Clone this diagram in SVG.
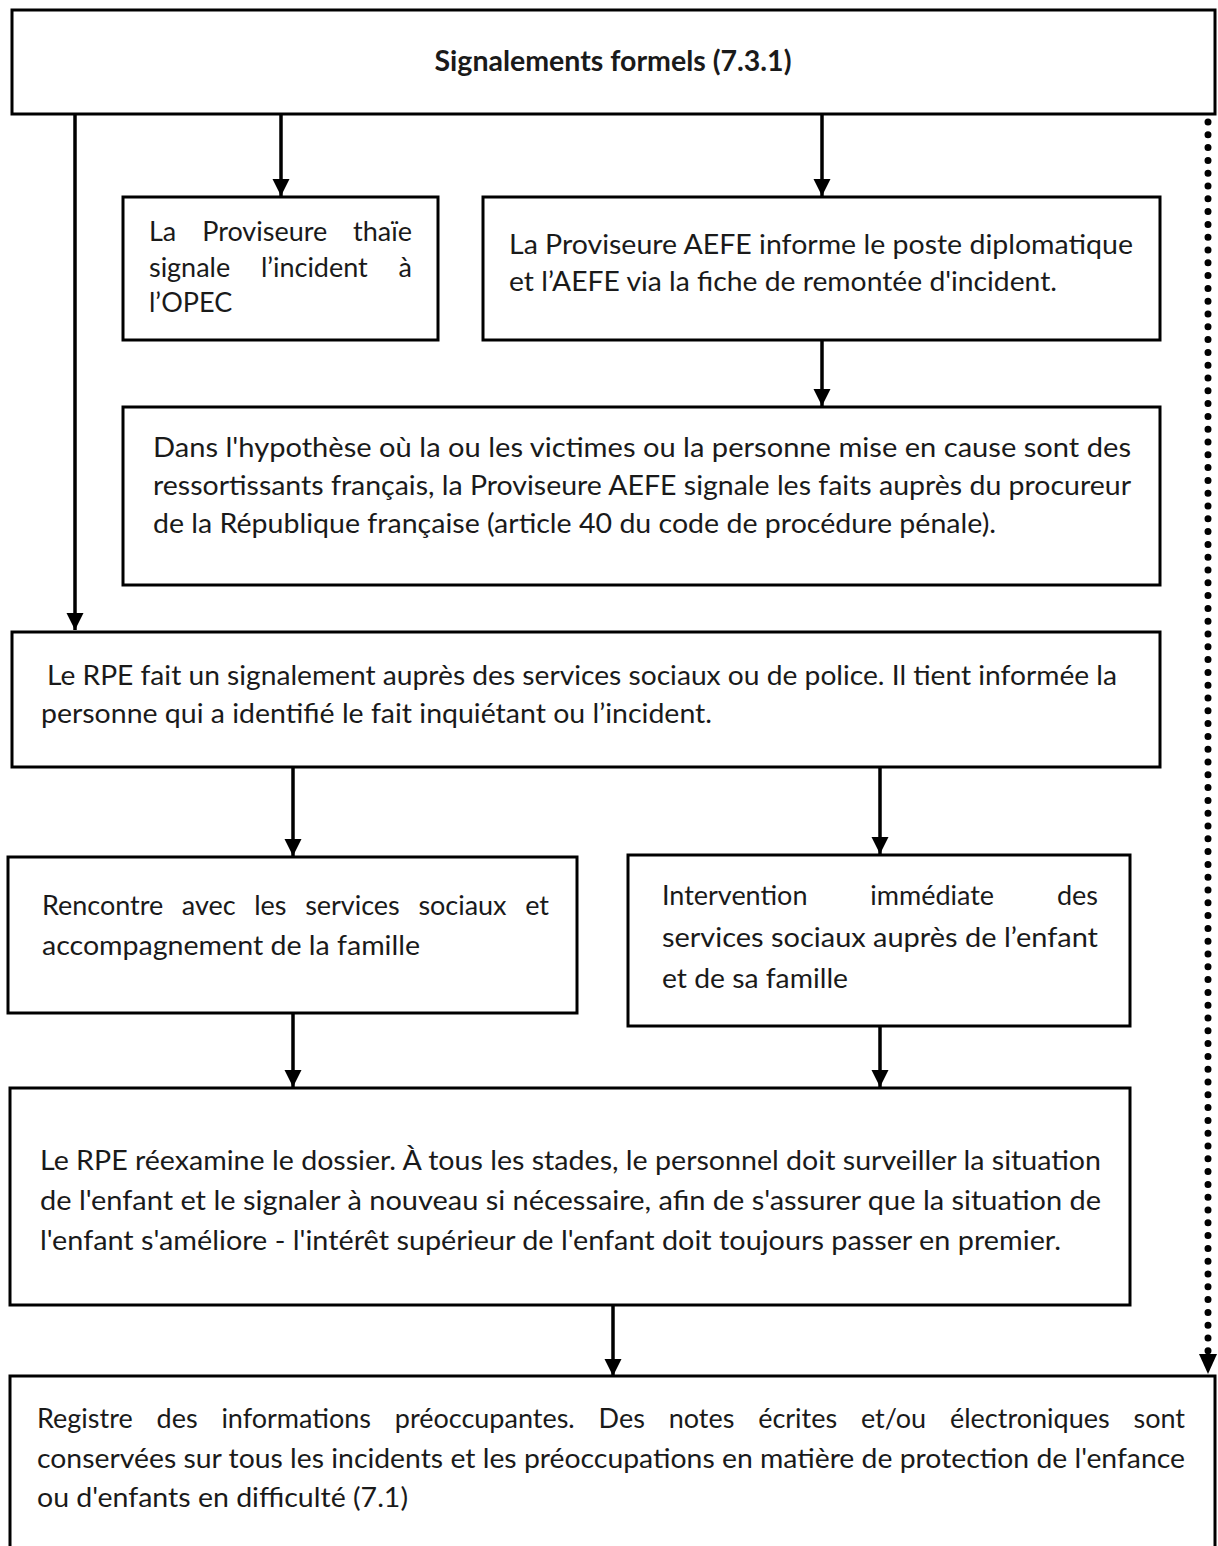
<svg xmlns="http://www.w3.org/2000/svg" width="1218" height="1546" viewBox="0 0 1218 1546">
<style>
.box{fill:#fff;stroke:#000;stroke-width:3}
.t{font-family:Lato,"Open Sans","Liberation Sans",sans-serif;font-size:27px;fill:#1a1a1a}
.b{font-weight:bold;font-size:28.5px}
.c{stroke:#000;stroke-width:3.5;fill:none}
.d{stroke:#000;stroke-width:7;stroke-linecap:round;stroke-dasharray:0 12.8;fill:none}
</style>
<defs>
<marker id="ah" viewBox="0 0 10 10" refX="10" refY="5" markerWidth="5" markerHeight="5" markerUnits="strokeWidth" orient="auto">
<path d="M0,0 L10,5 L0,10 Z" fill="#000"/>
</marker>
</defs>
<rect width="1218" height="1546" fill="#fff"/>
<g id="connectors">
<line class="c" x1="75" y1="115" x2="75" y2="630" marker-end="url(#ah)"/>
<line class="c" x1="281" y1="115" x2="281" y2="196" marker-end="url(#ah)"/>
<line class="c" x1="822" y1="115" x2="822" y2="196" marker-end="url(#ah)"/>
<line class="d" x1="1208" y1="122" x2="1208" y2="1352"/>
<path d="M1199,1354 L1217,1354 L1208,1374 Z" fill="#000"/>
<line class="c" x1="822" y1="341" x2="822" y2="406" marker-end="url(#ah)"/>
<line class="c" x1="293" y1="768" x2="293" y2="856" marker-end="url(#ah)"/>
<line class="c" x1="880" y1="768" x2="880" y2="854" marker-end="url(#ah)"/>
<line class="c" x1="293" y1="1014" x2="293" y2="1087" marker-end="url(#ah)"/>
<line class="c" x1="880" y1="1027" x2="880" y2="1087" marker-end="url(#ah)"/>
<line class="c" x1="613" y1="1306" x2="613" y2="1376" marker-end="url(#ah)"/>
</g>
<g id="n-top">
<rect class="box" x="12" y="10" width="1203" height="104"/>
<text class="t b" x="613" y="71" text-anchor="middle">Signalements formels (7.3.1)</text>
</g>
<g id="n-thai">
<rect class="box" x="123" y="197" width="315" height="143"/>
<text class="t" x="149" y="241" word-spacing="19" textLength="263" lengthAdjust="spacing">La Proviseure thaïe</text>
<text class="t" x="149" y="277" word-spacing="24" textLength="263" lengthAdjust="spacing">signale l’incident à</text>
<text class="t" x="149" y="312">l’OPEC</text>
</g>
<g id="n-aefe">
<rect class="box" x="483" y="197" width="677" height="143"/>
<text class="t" x="509" y="254" textLength="624" lengthAdjust="spacingAndGlyphs">La Proviseure AEFE informe le poste diplomatique</text>
<text class="t" x="509" y="291" textLength="548" lengthAdjust="spacingAndGlyphs">et l’AEFE via la fiche de remontée d'incident.</text>
</g>
<g id="n-procureur">
<rect class="box" x="123" y="407" width="1037" height="178"/>
<text class="t" x="153" y="457" textLength="978" lengthAdjust="spacingAndGlyphs">Dans l'hypothèse où la ou les victimes ou la personne mise en cause sont des</text>
<text class="t" x="153" y="495" textLength="978" lengthAdjust="spacingAndGlyphs">ressortissants français, la Proviseure AEFE signale les faits auprès du procureur</text>
<text class="t" x="153" y="533" textLength="843" lengthAdjust="spacingAndGlyphs">de la République française (article 40 du code de procédure pénale).</text>
</g>
<g id="n-rpe">
<rect class="box" x="12" y="632" width="1148" height="135"/>
<text class="t" x="47" y="685" textLength="1070" lengthAdjust="spacingAndGlyphs">Le RPE fait un signalement auprès des services sociaux ou de police. Il tient informée la</text>
<text class="t" x="41" y="723" textLength="671" lengthAdjust="spacingAndGlyphs">personne qui a identifié le fait inquiétant ou l’incident.</text>
</g>
<g id="n-rencontre">
<rect class="box" x="8" y="857" width="569" height="156"/>
<text class="t" x="42" y="915" word-spacing="11.8" textLength="507" lengthAdjust="spacing">Rencontre avec les services sociaux et</text>
<text class="t" x="42" y="955" textLength="378" lengthAdjust="spacingAndGlyphs">accompagnement de la famille</text>
</g>
<g id="n-intervention">
<rect class="box" x="628" y="855" width="502" height="171"/>
<text class="t" x="662" y="905" word-spacing="56" textLength="436" lengthAdjust="spacing">Intervention immédiate des</text>
<text class="t" x="662" y="947" textLength="436" lengthAdjust="spacingAndGlyphs">services sociaux auprès de l’enfant</text>
<text class="t" x="662" y="988" textLength="186" lengthAdjust="spacingAndGlyphs">et de sa famille</text>
</g>
<g id="n-reexamen">
<rect class="box" x="10" y="1088" width="1120" height="217"/>
<text class="t" x="40" y="1170" textLength="1061" lengthAdjust="spacingAndGlyphs">Le RPE réexamine le dossier. À tous les stades, le personnel doit surveiller la situation</text>
<text class="t" x="40" y="1210" textLength="1061" lengthAdjust="spacingAndGlyphs">de l'enfant et le signaler à nouveau si nécessaire, afin de s'assurer que la situation de</text>
<text class="t" x="40" y="1250" textLength="1021" lengthAdjust="spacingAndGlyphs">l'enfant s'améliore - l'intérêt supérieur de l'enfant doit toujours passer en premier.</text>
</g>
<g id="n-registre">
<rect class="box" x="10" y="1376" width="1205" height="180"/>
<text class="t" x="37" y="1428" word-spacing="16.9" textLength="1148" lengthAdjust="spacing">Registre des informations préoccupantes. Des notes écrites et/ou électroniques sont</text>
<text class="t" x="37" y="1468" textLength="1148" lengthAdjust="spacingAndGlyphs">conservées sur tous les incidents et les préoccupations en matière de protection de l'enfance</text>
<text class="t" x="37" y="1507" textLength="371" lengthAdjust="spacingAndGlyphs">ou d'enfants en difficulté (7.1)</text>
</g>
</svg>
